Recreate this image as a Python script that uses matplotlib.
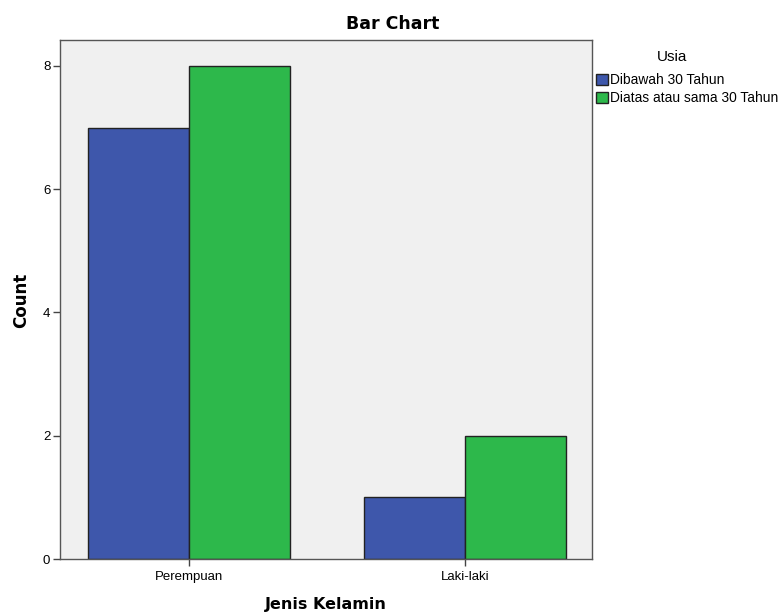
import numpy as np
import matplotlib.pyplot as plt
from matplotlib.patches import Patch

categories = ['Perempuan', 'Laki-laki']
series = ['Dibawah 30 Tahun', 'Diatas atau sama 30 Tahun']
counts = {
    'Dibawah 30 Tahun': [7, 1],
    'Diatas atau sama 30 Tahun': [8, 2],
}
colors = ['#3e57ab', '#2db84b']

plt.rcParams['font.family'] = ['Liberation Sans', 'DejaVu Sans']
bold_font = dict(family='DejaVu Sans', fontweight='bold')

fig = plt.figure(figsize=(7.81, 6.15), dpi=100)
ax = fig.add_axes([60/781, 1 - 559/615, (592-60)/781, (559-40)/615])
ax.set_facecolor('#f0f0f0')

x = np.arange(len(categories))
w = 0.366
for i, s in enumerate(series):
    ax.bar(x + (i - 0.5) * w, counts[s], width=w, align='center',
           color=colors[i], edgecolor='#222222', linewidth=1.0, zorder=2)

ax.set_xlim(-0.467, 1.46)
ax.set_ylim(0, 8.42)
ax.set_xticks(x)
ax.set_xticklabels(categories, fontsize=9.5)
ax.set_yticks([0, 2, 4, 6, 8])
ax.tick_params(axis='y', labelsize=9.5, length=5, width=1, color='#444444', pad=2)
ax.tick_params(axis='x', length=5, width=1, color='#444444')
for sp in ax.spines.values():
    sp.set_color('#555555')
    sp.set_linewidth(1.0)

# axis titles and chart title placed in figure coords
fig.text(326/781, 1 - 605/615, 'Jenis Kelamin', ha='center', va='center',
         fontsize=11.5, **bold_font)
fig.text(21/781, 1 - 300/615, 'Count', ha='center', va='center',
         rotation=90, fontsize=12, **bold_font)
fig.text(393/781, 1 - 24/615, 'Bar Chart', ha='center', va='center',
         fontsize=12.5, **bold_font)

# legend outside the axes, title drawn as plain text
fig.text(672/781, 1 - 57/615, 'Usia', ha='center', va='center', fontsize=11)
handles = [Patch(facecolor=colors[i], edgecolor='#222222', label=s)
           for i, s in enumerate(series)]
fig.legend(handles=handles, loc='upper left',
           bbox_to_anchor=(596/781, 1 - 73/615), frameon=False,
           fontsize=9.9, handlelength=0.85, handleheight=0.85,
           handletextpad=0.2, labelspacing=0.3, borderpad=0,
           borderaxespad=0)

fig.savefig('out.png', dpi=100)
